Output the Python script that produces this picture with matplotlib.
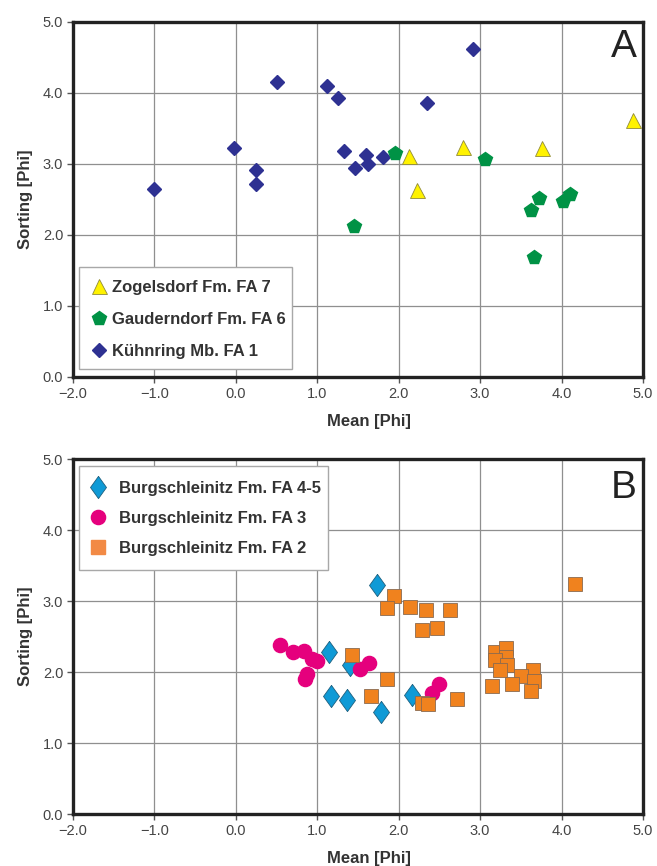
import matplotlib
matplotlib.use("Agg")
import matplotlib.pyplot as plt
from matplotlib.lines import Line2D
from matplotlib.patches import Rectangle

plt.rcParams['font.family'] = ['Liberation Sans', 'DejaVu Sans']

# Panel A - Zogelsdorf Fm. FA 7
zog_mean = [2.13, 2.23, 2.79, 3.76, 4.88]
zog_sort = [3.11, 2.63, 3.24, 3.22, 3.61]

# Panel A - Gauderndorf Fm. FA 6
gau_mean = [1.45, 1.96, 3.06, 3.72, 3.63, 4.10, 4.02, 3.66]
gau_sort = [2.12, 3.15, 3.07, 2.52, 2.35, 2.57, 2.48, 1.69]

# Panel A - Kühnring Mb. FA 1
kuh_mean = [-1.00, -0.02, 0.25, 0.25, 0.51, 1.12, 1.25, 1.33, 1.46,
            1.60, 1.62, 1.81, 2.35, 2.91]
kuh_sort = [2.64, 3.22, 2.91, 2.71, 4.15, 4.10, 3.93, 3.18, 2.94,
            3.12, 2.99, 3.09, 3.86, 4.61]

# Panel B - Burgschleinitz Fm. FA 4-5
b45_mean = [1.15, 1.40, 1.17, 1.36, 1.78, 2.16, 1.73]
b45_sort = [2.28, 2.10, 1.66, 1.61, 1.44, 1.68, 3.23]

# Panel B - Burgschleinitz Fm. FA 3
b3_mean = [0.54, 0.70, 0.84, 0.93, 1.00, 0.87, 0.85, 1.64, 1.53, 2.50, 2.41]
b3_sort = [2.38, 2.28, 2.30, 2.18, 2.16, 1.98, 1.91, 2.13, 2.05, 1.83, 1.70]

# Panel B - Burgschleinitz Fm. FA 2
b2_mean = [2.28, 2.47, 1.43, 1.86, 1.66, 2.29, 2.36, 2.71, 1.94, 1.86,
           2.14, 2.34, 2.63, 4.16, 3.18, 3.32, 3.32, 3.18, 3.33, 3.24,
           3.65, 3.50, 3.66, 3.39, 3.15, 3.62]
b2_sort = [2.60, 2.62, 2.24, 1.90, 1.67, 1.56, 1.55, 1.62, 3.08, 2.90,
           2.92, 2.88, 2.88, 3.24, 2.28, 2.34, 2.22, 2.17, 2.10, 2.03,
           2.03, 1.94, 1.88, 1.84, 1.80, 1.73]

ticks_x = [-2, -1, 0, 1, 2, 3, 4, 5]
ticks_y = [0, 1, 2, 3, 4, 5]

navy = "#2e3192"
green = "#009245"
yellow = "#fff200"
cyan = "#0f9ad6"
magenta = "#e5007d"
orange = "#f0821e"

thin_diamond = [(0, 1), (0.72, 0), (0, -1), (-0.72, 0), (0, 1)]


def style_axes(ax, letter, letter_y):
    ax.set_xlim(-2, 5)
    ax.set_ylim(0, 5)
    ax.set_xticks(ticks_x)
    ax.set_yticks(ticks_y)
    ax.set_xticklabels([f"{t:.1f}".replace("-", "\u2212") for t in ticks_x])
    ax.set_yticklabels([f"{t:.1f}" for t in ticks_y])
    ax.grid(True, color="#8f8f8f", linewidth=0.9)
    ax.set_axisbelow(True)
    for sp in ax.spines.values():
        sp.set_linewidth(2.4)
        sp.set_color("#222222")
    ax.tick_params(direction="out", length=4, width=1, color="#555555",
                   labelsize=10.5, labelcolor="#444444", pad=3)
    ax.set_xlabel("Mean [Phi]", fontsize=12, fontweight="bold", color="#333333")
    ax.set_ylabel("Sorting [Phi]", fontsize=12, fontweight="bold", color="#333333")
    ax.xaxis.set_label_coords(0.52, -0.105)
    ax.yaxis.set_label_coords(-0.070, 0.5)
    ax.text(0.989, letter_y, letter, transform=ax.transAxes, ha="right",
            va="baseline", fontsize=28, color="#222222")


def legend_box(ax, x0, y0, x1, y1):
    ax.add_patch(Rectangle((x0, y0), x1 - x0, y1 - y0, transform=ax.transAxes,
                           facecolor="white", edgecolor="#a8a8a8",
                           linewidth=1.0, zorder=6))


fig = plt.figure(figsize=(6.57, 8.66), dpi=100)
axA = fig.add_axes([0.1111, 0.5647, 0.8676, 0.4103])
axB = fig.add_axes([0.1111, 0.0600, 0.8676, 0.4096])

# Panel A
axA.plot(kuh_mean, kuh_sort, linestyle="none", marker="D", ms=7.3,
         color=navy, mec=navy, zorder=3)
axA.plot(gau_mean, gau_sort, linestyle="none", marker="p", ms=10.8,
         color=green, mec=green, zorder=4)
axA.plot(zog_mean, zog_sort, linestyle="none", marker="^", ms=10.8,
         color=yellow, mec="#8f8a3a", mew=0.6, zorder=5)
style_axes(axA, "A", 0.90)

legend_box(axA, 0.0105, 0.0225, 0.384, 0.3096)
handlesA = [
    Line2D([], [], linestyle="none", marker="^", ms=10.8, color=yellow,
           mec="#8f8a3a", mew=0.6, label="Zogelsdorf Fm. FA 7"),
    Line2D([], [], linestyle="none", marker="p", ms=10.8, color=green,
           mec=green, label="Gauderndorf Fm. FA 6"),
    Line2D([], [], linestyle="none", marker="D", ms=7.3, color=navy,
           mec=navy, label="K\u00fchnring Mb. FA 1"),
]
legA = axA.legend(handles=handlesA, loc="center left",
                  bbox_to_anchor=(0.031, 0.1618), borderaxespad=0,
                  borderpad=0, frameon=False,
                  prop={"size": 12, "weight": "bold"}, labelspacing=1.0,
                  handletextpad=0.28, handlelength=1.0)
legA.set_zorder(7)
for t in legA.get_texts():
    t.set_color("#333333")

# Panel B
axB.plot(b45_mean, b45_sort, linestyle="none", marker=thin_diamond, ms=16,
         color=cyan, mec="#1d5f7e", mew=0.6, zorder=3)
axB.plot(b3_mean, b3_sort, linestyle="none", marker="o", ms=10.2,
         color=magenta, mec=magenta, zorder=4)
axB.plot(b2_mean, b2_sort, linestyle="none", marker="s", ms=9.8,
         color=orange, mec="#8a6a50", mew=0.6, zorder=5)
style_axes(axB, "B", 0.89)

legend_box(axB, 0.0105, 0.688, 0.447, 0.981)
handlesB = [
    Line2D([], [], linestyle="none", marker=thin_diamond, ms=16, color=cyan,
           mec="#1d5f7e", mew=0.6, label="Burgschleinitz Fm. FA 4-5"),
    Line2D([], [], linestyle="none", marker="o", ms=10.2, color=magenta,
           mec=magenta, label="Burgschleinitz Fm. FA 3"),
    Line2D([], [], linestyle="none", marker="s", ms=9.8, color="#f28a45",
           mec="#f28a45", label="Burgschleinitz Fm. FA 2"),
]
legB = axB.legend(handles=handlesB, loc="center left",
                  bbox_to_anchor=(0.0293, 0.8345), borderaxespad=0,
                  borderpad=0, frameon=False,
                  prop={"size": 12, "weight": "bold"}, labelspacing=0.9,
                  handletextpad=0.78, handlelength=1.0)
legB.set_zorder(7)
for t in legB.get_texts():
    t.set_color("#333333")

fig.savefig("out.png", dpi=100)
plt.close(fig)
